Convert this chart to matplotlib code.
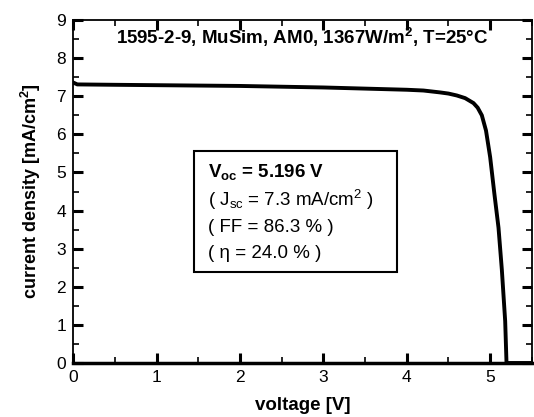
import numpy as np
import matplotlib
matplotlib.use('Agg')
import matplotlib.pyplot as plt
from matplotlib.patches import Rectangle
from matplotlib.ticker import MultipleLocator

plt.rcParams['font.family'] = ['Liberation Sans', 'DejaVu Sans']
plt.rcParams['mathtext.fontset'] = 'custom'
plt.rcParams['mathtext.rm'] = 'Liberation Sans'
plt.rcParams['mathtext.it'] = 'Liberation Sans'
plt.rcParams['mathtext.bf'] = 'Liberation Sans:bold'

# J-V curve
voltage = [0.0, 0.05, 0.5, 1.0, 1.5, 2.0, 2.5, 3.0, 3.5, 4.0, 4.2, 4.4, 4.5, 4.6,
           4.7, 4.8, 4.85, 4.9, 4.95, 5.0, 5.05, 5.1, 5.14, 5.18, 5.196, 5.5]
current = [7.36, 7.31, 7.30, 7.29, 7.28, 7.27, 7.25, 7.23, 7.20, 7.17, 7.15, 7.10, 7.07, 7.02,
           6.95, 6.82, 6.70, 6.50, 6.10, 5.40, 4.45, 3.55, 2.45, 1.10, 0.0, 0.0]

title = '1595-2-9, MuSim, AM0, 1367W/m$^\\mathbf{2}$, T=25\u00b0C'
box_lines = ['$\\mathbf{V_{oc}}$ = 5.196 V',
             '( J$_{sc}$ = 7.3 mA/cm$^2$ )',
             '( FF = 86.3 % )',
             '( \u03b7 = 24.0 % )']

fs = 13.5
fig = plt.figure(figsize=(5.34, 4.17), dpi=100)
ax = fig.add_axes([0.137, 0.1295, 0.859, 0.8225])

ax.plot(voltage, current, color='black', lw=2.8, solid_joinstyle='miter')

ax.set_xlim(0, 5.5)
ax.set_ylim(0, 9)
ax.xaxis.set_major_locator(MultipleLocator(1))
ax.xaxis.set_minor_locator(MultipleLocator(0.5))
ax.yaxis.set_major_locator(MultipleLocator(1))
ax.yaxis.set_minor_locator(MultipleLocator(0.5))
ax.tick_params(which='both', direction='in', top=True, right=True, labelsize=fs - 1)
ax.tick_params(which='major', length=7, width=2.2, pad=5)
ax.tick_params(which='minor', length=4, width=1.2)
for s in ax.spines.values():
    s.set_linewidth(1.3)
ax.spines['bottom'].set_linewidth(2.5)

ax.set_xlabel('voltage [V]', fontsize=fs, fontweight='bold', labelpad=9)
ax.set_ylabel('current density [mA/cm$^\\mathbf{2}$]', fontsize=fs - 0.5, fontweight='bold', labelpad=10)

ax.text(0.5, 0.95, title, transform=ax.transAxes, ha='center', va='center',
        fontsize=fs, fontweight='bold')

ax.add_patch(Rectangle((0.264, 0.265), 0.442, 0.353, transform=ax.transAxes,
                       fill=False, ec='black', lw=1.5))
ys = [0.557, 0.475, 0.394, 0.318]
for i, line in enumerate(box_lines):
    ax.text(0.294, ys[i], line, transform=ax.transAxes, ha='left', va='center',
            fontsize=fs, fontweight='bold' if i == 0 else 'normal')

fig.savefig('out.png', dpi=100)
